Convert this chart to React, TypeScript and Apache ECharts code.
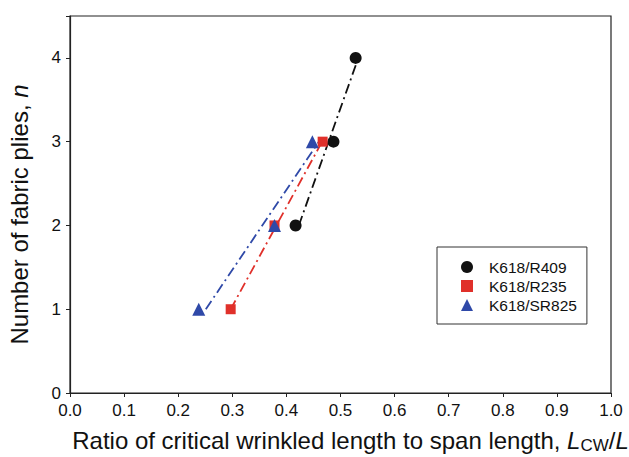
import React, { useEffect, useRef } from "react";
import * as echarts from "echarts";

const xTicks = ["0.0", "0.1", "0.2", "0.3", "0.4", "0.5", "0.6", "0.7", "0.8", "0.9", "1.0"];
const yTicks = [0, 1, 2, 3, 4];

const seriesNames = ["K618/R409", "K618/R235", "K618/SR825"];
const colors = ["#111111", "#e0302a", "#2f49a8"];
const symbols = ["circle", "rect", "triangle"];

const r409Points: [number, number][] = [[0.417, 2], [0.487, 3], [0.528, 4]];
const r235Points: [number, number][] = [[0.297, 1], [0.378, 2], [0.467, 3]];
const sr825Points: [number, number][] = [[0.238, 1], [0.378, 2], [0.448, 3]];

const r409Fit: [number, number][] = [[0.423, 2], [0.533, 4]];
const r235Fit: [number, number][] = [[0.297, 1], [0.466, 3]];
const sr825Fit: [number, number][] = [[0.251, 1], [0.460, 3]];

const pointSets = [r409Points, r235Points, sr825Points];
const fitSets = [r409Fit, r235Fit, sr825Fit];

export default function App() {
  const ref = useRef<HTMLDivElement>(null);
  useEffect(() => {
    if (!ref.current) return;
    const chart = echarts.init(ref.current, null, { renderer: "svg" });
    const font = "Liberation Sans, Arial, sans-serif";
    const series: any[] = [];
    fitSets.forEach((d, i) => {
      series.push({
        name: seriesNames[i] + " fit",
        type: "line",
        data: d,
        symbol: "none",
        lineStyle: { color: colors[i], width: 1.8, type: [10, 4, 2, 4] },
        z: 2,
        silent: true,
      });
    });
    pointSets.forEach((d, i) => {
      series.push({
        name: seriesNames[i],
        type: "scatter",
        data: d,
        symbol: symbols[i],
        symbolSize: i === 0 ? 12 : i === 1 ? 10 : 13,
        itemStyle: { color: colors[i], opacity: 1 },
        z: 3,
      });
    });
    chart.setOption({
      animation: false,
      backgroundColor: "#ffffff",
      grid: {
        left: 70,
        right: 18,
        top: 16,
        bottom: 64,
        show: true,
        borderColor: "#222",
        borderWidth: 1.2,
        containLabel: false,
        outerBoundsMode: "none",
      },
      legend: {
        data: seriesNames.map((n, i) => ({ name: n, icon: symbols[i], itemStyle: { opacity: 1 } })),
        orient: "vertical",
        left: 437,
        top: 247,
        padding: [12, 10, 11, 24],
        itemGap: 3,
        itemWidth: 12,
        itemHeight: 12,
        borderColor: "#333",
        borderWidth: 1,
        borderRadius: 0,
        textStyle: { fontFamily: font, fontSize: 15.5, color: "#111", padding: [0, 0, 0, 11] },
      },
      xAxis: {
        type: "value",
        min: 0,
        max: 1,
        interval: 0.1,
        name: "{n|Ratio of critical wrinkled length to span length, }{i|L}{s|CW}{n|/}{i|L}",
        nameLocation: "middle",
        nameGap: 33,
        nameTextStyle: {
          padding: [0, 0, 0, 20],
          rich: {
            n: { fontFamily: font, fontSize: 24, color: "#111" },
            i: { fontFamily: font, fontSize: 24, fontStyle: "italic", color: "#111" },
            s: { fontFamily: font, fontSize: 17, color: "#111", verticalAlign: "bottom", padding: [11, 0, 0, 0] },
          },
        },
        axisLine: { lineStyle: { color: "#222", width: 1.2 } },
        axisTick: { inside: false, length: 4, lineStyle: { color: "#222" } },
        axisLabel: {
          fontFamily: font,
          fontSize: 17,
          color: "#111",
          margin: 9,
          formatter: (v: number) => xTicks[Math.round(v * 10)],
        },
        splitLine: { show: false },
      },
      yAxis: {
        type: "value",
        min: 0,
        max: 4.5,
        interval: 1,
        name: "{n|Number of fabric plies, }{i|n}",
        nameLocation: "middle",
        nameGap: 39,
        nameRotate: 90,
        nameTextStyle: {
          padding: [0, 20, 0, 0],
          rich: {
            n: { fontFamily: font, fontSize: 24, color: "#111" },
            i: { fontFamily: font, fontSize: 24, fontStyle: "italic", color: "#111" },
          },
        },
        axisLine: { show: true, lineStyle: { color: "#222", width: 1.2 } },
        axisTick: { show: true, inside: false, length: 4, lineStyle: { color: "#222" } },
        axisLabel: {
          fontFamily: font,
          fontSize: 17,
          color: "#111",
          margin: 9,
          formatter: (v: number) => (yTicks.includes(v) ? String(v) : ""),
        },
        splitLine: { show: false },
      },
      series,
    });
    return () => chart.dispose();
  }, []);
  return <div ref={ref} style={{ width: 629, height: 457, position: "absolute", left: 0, top: 0 }} />;
}
